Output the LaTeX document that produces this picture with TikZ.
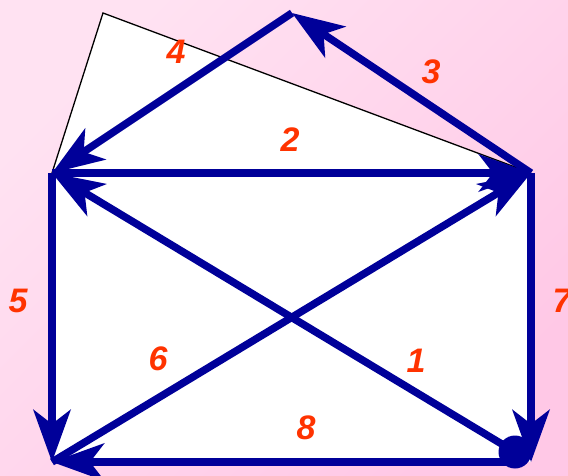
\documentclass[tikz,border=0pt]{standalone}
\usepackage{fontspec}
\setmainfont{Liberation Sans}
\usetikzlibrary{arrows.meta}
\definecolor{navy}{HTML}{000099}
\definecolor{lab}{HTML}{FF3300}
\definecolor{bgA}{HTML}{FFE2F2}
\definecolor{bgB}{HTML}{FFC8E6}
\begin{document}
\begin{tikzpicture}[x=1pt,y=-1pt,
  edge/.style={draw=navy,line width=7.5pt,-{Stealth[length=52pt,width=37pt,inset=14pt]}},
  num/.style={text=lab,font=\fontsize{34}{34}\selectfont\bfseries\itshape,inner sep=0pt}]
\useasboundingbox (0,0) rectangle (568,476);
\shade[top color=bgA,bottom color=bgB,shading angle=45] (0,0) rectangle (568,476);
\coordinate (A) at (52,173);
\coordinate (B) at (531,173);
\coordinate (C) at (52,462);
\coordinate (D) at (531,462);
\coordinate (T) at (292,13);
\coordinate (F) at (103,13);
\fill[white] (A) -- (B) -- (D) -- (C) -- cycle;
\fill[white] (F) -- (A) -- (B) -- cycle;
\draw[black,line width=1.3pt] (A) -- (F) -- (B);
\node[circle,fill=navy,minimum size=33pt,inner sep=0pt] (S) at (515,452) {};
\draw[edge] (S.center) -- (A);
\draw[edge] (A) -- (B);
\draw[edge] (B) -- (T);
\draw[edge] (T) -- (A);
\draw[edge] (A) -- (C);
\draw[edge] (C) -- (B);
\draw[edge] (B) -- (D);
\draw[edge] (S.center |- C) -- (C);
\node[num] (n1) at (416,361) {1};
\node[num] (n2) at (290,140) {2};
\node[num] (n3) at (431,72) {3};
\node[num] (n4) at (176,52) {4};
\node[num] (n5) at (18,301) {5};
\node[num] (n6) at (158,359) {6};
\node[num] (n7) at (562,301) {7};
\node[num] (n8) at (306,428) {8};
\end{tikzpicture}
\end{document}
